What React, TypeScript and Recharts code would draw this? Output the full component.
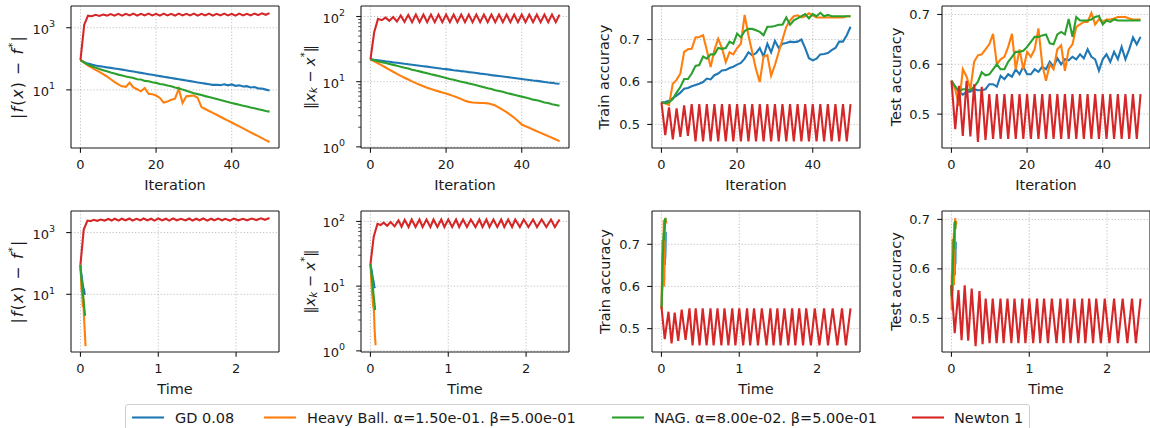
import React from 'react';
import { LineChart, Line, XAxis, YAxis, CartesianGrid, ReferenceLine, Label } from 'recharts';

// iteration index 0..50
const ITER = [
  0, 1, 2, 3, 4, 5, 6, 7, 8, 9, 10, 11, 12, 13, 14, 15, 16, 17, 18, 19, 20, 21, 22, 23, 24, 25,
  26, 27, 28, 29, 30, 31, 32, 33, 34, 35, 36, 37, 38, 39, 40, 41, 42, 43, 44, 45, 46, 47, 48, 49, 50,
];

// wall-clock time of each iteration
const GD_T = [
  0, 0.0015, 0.0026, 0.0037, 0.0048, 0.0059, 0.0069, 0.008, 0.0091, 0.0102, 0.0113,
  0.0124, 0.0134, 0.0145, 0.0156, 0.0167, 0.0178, 0.0188, 0.0199, 0.021, 0.0221,
  0.0232, 0.0243, 0.0254, 0.0265, 0.0276, 0.0287, 0.0298, 0.0309, 0.032, 0.0331,
  0.0342, 0.0352, 0.0363, 0.0374, 0.0385, 0.0396, 0.0407, 0.0418, 0.0429, 0.044,
  0.0451, 0.0462, 0.0473, 0.0484, 0.0495, 0.0506, 0.0517, 0.0528, 0.0539, 0.055,
];
const HB_T = [
  0, 0.0017, 0.003, 0.0043, 0.0056, 0.0069, 0.0082, 0.0095, 0.0108, 0.0121, 0.0134,
  0.0147, 0.016, 0.0173, 0.0186, 0.0199, 0.0212, 0.0225, 0.0238, 0.0251, 0.0264,
  0.0277, 0.029, 0.0303, 0.0316, 0.0329, 0.0342, 0.0355, 0.0368, 0.0381, 0.0394,
  0.0407, 0.042, 0.0433, 0.0446, 0.0459, 0.0472, 0.0485, 0.0498, 0.0511, 0.0524,
  0.0537, 0.055, 0.0563, 0.0576, 0.0589, 0.0602, 0.0615, 0.0628, 0.0641, 0.0654,
];
const NAG_T = [
  0, 0.0016, 0.0028, 0.004, 0.0052, 0.0064, 0.0076, 0.0088, 0.01, 0.0112, 0.0124,
  0.0136, 0.0148, 0.016, 0.0172, 0.0184, 0.0196, 0.0208, 0.022, 0.0232, 0.0244,
  0.0256, 0.0268, 0.028, 0.0292, 0.0304, 0.0316, 0.0328, 0.034, 0.0352, 0.0364,
  0.0376, 0.0388, 0.04, 0.0412, 0.0424, 0.0436, 0.0448, 0.046, 0.0472, 0.0484,
  0.0496, 0.0508, 0.052, 0.0532, 0.0544, 0.0556, 0.0568, 0.058, 0.0592, 0.0604,
];
const NEWTON_T = [
  0, 0.042, 0.09, 0.13, 0.17, 0.215, 0.26, 0.31, 0.36, 0.4, 0.44,
  0.49, 0.53, 0.58, 0.63, 0.67, 0.72, 0.77, 0.81, 0.86, 0.91,
  0.95, 1.0, 1.05, 1.1, 1.14, 1.19, 1.24, 1.29, 1.35, 1.4,
  1.44, 1.49, 1.53, 1.58, 1.63, 1.68, 1.72, 1.77, 1.82, 1.86,
  1.92, 1.97, 2.03, 2.09, 2.14, 2.2, 2.26, 2.32, 2.37, 2.43,
];

// |f(x) - f*|
const GD_F = [
  91, 78, 70, 65, 61, 58, 55.5, 53, 51, 49, 47,
  44.8, 42.7, 40.7, 38.8, 37, 35.2, 33.5, 32, 30.5, 29,
  27.7, 26.5, 25.3, 24.1, 23, 22, 21, 20, 19.1, 18.3,
  17.4, 16.6, 15.9, 15.2, 14.5, 14.6, 14.2, 15.2, 14, 15,
  13.5, 14, 12.8, 13.2, 12, 12.4, 11.2, 11, 10.2, 9.5,
];
const HB_F = [
  91, 75, 60, 52, 44, 38, 32, 27, 22, 18, 15,
  13, 12.5, 17, 12, 10.5, 9, 11.5, 7.5, 7.2, 6.6,
  5.5, 3.9, 4.2, 4.8, 5.2, 10.8, 3.8, 6.2, 6.4, 6.6,
  5.5, 2.8, 2.42, 2.1, 1.82, 1.58, 1.37, 1.18, 1.03, 0.89,
  0.77, 0.67, 0.58, 0.5, 0.43, 0.375, 0.325, 0.28, 0.243, 0.21,
];
const NAG_F = [
  91, 75, 65, 58, 52, 47, 43, 39.5, 36, 33.5, 31,
  29, 27, 25.5, 24, 22, 21.5, 19.5, 19, 17.5, 16.8,
  15.5, 15, 13.8, 13, 12, 11.2, 10.2, 9.4, 8.5, 7.8,
  7.3, 6.8, 6.3, 5.9, 5.5, 5.1, 4.75, 4.4, 4.1, 3.8,
  3.55, 3.3, 3.1, 2.9, 2.7, 2.55, 2.4, 2.25, 2.1, 2.0,
];
const NEWTON_F = [
  91, 1250, 2450, 2350, 2600, 2400, 2650, 2450, 2750, 2450, 2800,
  2450, 2800, 2500, 2850, 2450, 2800, 2500, 2850, 2500, 2800,
  2450, 2850, 2500, 2800, 2450, 2850, 2500, 2800, 2500, 2850,
  2450, 2800, 2500, 2850, 2450, 2800, 2500, 2850, 2500, 2800,
  2450, 2850, 2500, 2800, 2500, 2850, 2550, 2900, 2600, 2950,
];

// ||x_k - x*||
const GD_X = [
  22, 21.6, 21.3, 20.9, 20.5, 20.2, 19.8, 19.5, 19.2, 18.8, 18.5,
  18.2, 17.9, 17.6, 17.3, 17.0, 16.7, 16.4, 16.1, 15.8, 15.6,
  15.3, 15.0, 14.8, 14.5, 14.3, 14.0, 13.8, 13.6, 13.3, 13.1,
  12.9, 12.6, 12.4, 12.2, 12.0, 11.8, 11.6, 11.4, 11.2, 11.0,
  10.8, 10.6, 10.4, 10.3, 10.1, 9.9, 9.7, 9.6, 9.4, 9.3,
];
const HB_X = [
  22, 20.5, 19.2, 17.8, 16.5, 15.3, 14.2, 13.2, 12.3, 11.5, 10.8,
  10.1, 9.5, 9.0, 8.5, 8.1, 7.7, 7.4, 7.1, 6.8, 6.6,
  6.3, 6.0, 5.7, 5.4, 5.1, 4.9, 4.8, 4.75, 4.7, 4.7,
  4.65, 4.5, 4.3, 4.0, 3.7, 3.4, 3.1, 2.8, 2.5, 2.2,
  2.07, 1.96, 1.84, 1.74, 1.64, 1.55, 1.46, 1.38, 1.3, 1.22,
];
const NAG_X = [
  22, 21.3, 20.6, 19.9, 19.3, 18.7, 18.1, 17.5, 16.9, 16.4, 15.9,
  15.3, 14.8, 14.4, 13.9, 13.5, 13.0, 12.6, 12.2, 11.8, 11.4,
  11.0, 10.7, 10.3, 10.0, 9.7, 9.4, 9.1, 8.8, 8.5, 8.2,
  7.9, 7.7, 7.4, 7.2, 7.0, 6.7, 6.5, 6.3, 6.1, 5.9,
  5.7, 5.5, 5.3, 5.2, 5.0, 4.8, 4.7, 4.5, 4.4, 4.27,
];
const NEWTON_X = [
  22, 58, 92, 88, 96, 86, 98, 84, 104, 83, 106,
  82, 107, 82, 107, 82, 107, 82, 107, 82, 107,
  82, 107, 82, 107, 82, 107, 82, 107, 82, 107,
  82, 107, 82, 107, 82, 107, 82, 107, 82, 107,
  82, 107, 82, 107, 82, 107, 82, 107, 82, 107,
];

// train accuracy
const GD_TR = [
  0.552, 0.553, 0.556, 0.562, 0.568, 0.575, 0.584, 0.586, 0.59, 0.593, 0.596,
  0.6, 0.608, 0.606, 0.616, 0.62, 0.627, 0.628, 0.633, 0.636, 0.641,
  0.645, 0.655, 0.67, 0.663, 0.668, 0.68, 0.66, 0.69, 0.67, 0.697,
  0.68, 0.69, 0.692, 0.695, 0.694, 0.695, 0.7, 0.68, 0.656, 0.651,
  0.655, 0.665, 0.666, 0.668, 0.675, 0.68, 0.695, 0.695, 0.71, 0.73,
];
const HB_TR = [
  0.552, 0.55, 0.546, 0.596, 0.605, 0.62, 0.671, 0.677, 0.678, 0.705, 0.706,
  0.71, 0.675, 0.635, 0.675, 0.702, 0.68, 0.647, 0.67, 0.665, 0.68,
  0.69, 0.758, 0.71, 0.67, 0.63, 0.6, 0.66, 0.663, 0.615, 0.64,
  0.67, 0.7, 0.73, 0.745, 0.755, 0.757, 0.752, 0.755, 0.762, 0.757,
  0.752, 0.752, 0.752, 0.752, 0.752, 0.752, 0.752, 0.752, 0.755, 0.755,
];
const NAG_TR = [
  0.552, 0.55, 0.552, 0.56, 0.575, 0.588, 0.607, 0.607, 0.62, 0.638, 0.64,
  0.66, 0.655, 0.665, 0.665, 0.68, 0.678, 0.68, 0.695, 0.69, 0.714,
  0.705, 0.72, 0.725, 0.725, 0.722, 0.718, 0.71, 0.73, 0.73, 0.732,
  0.735, 0.735, 0.752, 0.735, 0.745, 0.75, 0.755, 0.76, 0.75, 0.76,
  0.755, 0.763, 0.755, 0.758, 0.755, 0.755, 0.755, 0.755, 0.755, 0.755,
];
const NEWTON_TR = [
  0.552, 0.475, 0.54, 0.465, 0.538, 0.471, 0.545, 0.473, 0.548, 0.46, 0.548,
  0.46, 0.548, 0.46, 0.548, 0.46, 0.548, 0.46, 0.548, 0.46, 0.548,
  0.46, 0.548, 0.46, 0.548, 0.46, 0.548, 0.46, 0.548, 0.46, 0.548,
  0.46, 0.548, 0.46, 0.548, 0.46, 0.548, 0.46, 0.548, 0.46, 0.548,
  0.46, 0.548, 0.46, 0.548, 0.46, 0.548, 0.46, 0.548, 0.46, 0.548,
];

// test accuracy
const GD_TE = [
  0.567, 0.555, 0.545, 0.539, 0.545, 0.545, 0.55, 0.548, 0.548, 0.55, 0.56,
  0.56, 0.555, 0.577, 0.57, 0.58, 0.575, 0.59, 0.58, 0.595, 0.58,
  0.58, 0.59, 0.585, 0.595, 0.59, 0.605, 0.595, 0.612, 0.6, 0.61,
  0.608, 0.615, 0.61, 0.62, 0.612, 0.63, 0.615, 0.61, 0.587, 0.61,
  0.62, 0.605, 0.625, 0.61, 0.635, 0.61, 0.63, 0.654, 0.64, 0.655,
];
const HB_TE = [
  0.567, 0.55, 0.517, 0.59, 0.575, 0.55, 0.605, 0.618, 0.62, 0.63, 0.64,
  0.661, 0.6, 0.61, 0.615, 0.635, 0.661, 0.59, 0.63, 0.59, 0.625,
  0.615, 0.63, 0.672, 0.6, 0.567, 0.6, 0.59, 0.63, 0.638, 0.587,
  0.63, 0.64, 0.675, 0.68, 0.685, 0.685, 0.703, 0.68, 0.69, 0.685,
  0.69, 0.69, 0.692, 0.695, 0.695, 0.695, 0.692, 0.69, 0.69, 0.69,
];
const NAG_TE = [
  0.567, 0.555, 0.545, 0.55, 0.55, 0.548, 0.555, 0.565, 0.584, 0.578, 0.58,
  0.59, 0.6, 0.59, 0.59, 0.605, 0.615, 0.625, 0.625, 0.627, 0.635,
  0.645, 0.655, 0.655, 0.658, 0.66, 0.642, 0.64, 0.66, 0.665, 0.66,
  0.691, 0.655, 0.695, 0.688, 0.688, 0.688, 0.69, 0.695, 0.697, 0.68,
  0.688, 0.685, 0.69, 0.688, 0.688, 0.688, 0.688, 0.688, 0.688, 0.688,
];
const NEWTON_TE = [
  0.567, 0.47, 0.557, 0.456, 0.567, 0.455, 0.56, 0.444, 0.555, 0.448, 0.54,
  0.45, 0.54, 0.45, 0.54, 0.45, 0.54, 0.45, 0.54, 0.45, 0.54,
  0.45, 0.54, 0.45, 0.54, 0.45, 0.54, 0.45, 0.54, 0.45, 0.54,
  0.45, 0.54, 0.45, 0.54, 0.45, 0.54, 0.45, 0.54, 0.45, 0.54,
  0.45, 0.54, 0.45, 0.54, 0.45, 0.54, 0.45, 0.54, 0.45, 0.54,
];

const LEGEND_NAMES = ['GD 0.08', 'Heavy Ball. α=1.50e-01. β=5.00e-01', 'NAG. α=8.00e-02. β=5.00e-01', 'Newton 1'];
const ITER_TICKS = [0, 20, 40];
const TIME_TICKS = [0, 1, 2];
const LOG_F_TICKS = [10, 1000];
const LOG_X_TICKS = [1, 10, 100];
const LOG_X_MINOR = [2, 3, 4, 5, 6, 7, 8, 9, 20, 30, 40, 50, 60, 70, 80, 90];
const ACC_TICKS = [0.5, 0.6, 0.7];

const COLORS = ['#1f77b4', '#ff7f0e', '#2ca02c', '#d62728'];
const FONT = '"DejaVu Sans", Verdana, sans-serif';
const INK = '#1a1a1a';

const PADL = 72;
const PADT = 8;
const PADR = 8;
const PADB = 52;

type Pt = { x: number; y: number };
const zip = (xs: number[], ys: number[]): Pt[] => xs.map((x, i) => ({ x, y: ys[i] }));

const EXP: Record<number, string> = { 1: '0', 10: '1', 100: '2', 1000: '3' };

const XTick = (props: any) => {
  const { x, y, payload } = props;
  return (
    <g>
      <line x1={x} x2={x} y1={y} y2={y + 4.8} stroke={INK} strokeWidth={1.1} />
      <text x={x} y={y + 16.5} textAnchor="middle" dominantBaseline="central" fontSize={13} fontFamily={FONT} fill={INK}>
        {payload.value}
      </text>
    </g>
  );
};

const YTick = (props: any) => {
  const { x, y, payload, log, majors } = props;
  const v = payload.value;
  const major = majors.includes(v);
  return (
    <g>
      <line x1={x - (major ? 4.8 : 2.8)} x2={x} y1={y} y2={y} stroke={INK} strokeWidth={major ? 1.1 : 0.8} />
      {major && log && (
        <text x={x - 16} y={y + 1.5} textAnchor="end" dominantBaseline="central" fontSize={13} fontFamily={FONT} fill={INK}>
          10
          <tspan dy={-6} fontSize={9.5}>{EXP[v]}</tspan>
        </text>
      )}
      {major && !log && (
        <text x={x - 12} y={y} textAnchor="end" dominantBaseline="central" fontSize={13} fontFamily={FONT} fill={INK}>
          {v.toFixed(1)}
        </text>
      )}
    </g>
  );
};

const rot = (cx: number, cy: number) => ({
  x: cx,
  y: cy,
  transform: `rotate(-90 ${cx} ${cy})`,
  textAnchor: 'middle' as const,
  dominantBaseline: 'central' as const,
  fontFamily: FONT,
  fontSize: 14.5,
  fill: INK,
});

const FGapLabel = (cx: number, cy: number) => (
  <text {...rot(cx, cy)} fontSize={15.5} letterSpacing={1.2}>
    |<tspan fontStyle="italic">f</tspan>(<tspan fontStyle="italic">x</tspan>){') \u2212 '.slice(1)}
    <tspan fontStyle="italic">f</tspan>
    <tspan dy={-6} fontSize={10}>*</tspan>
    <tspan dy={6}>|</tspan>
  </text>
);

const XDistLabel = (cx: number, cy: number) => (
  <text {...rot(cx, cy)}>
    ‖<tspan fontStyle="italic">x</tspan>
    <tspan dy={3} fontSize={10} fontStyle="italic">k</tspan>
    <tspan dy={-3}>{' \u2212 '}</tspan>
    <tspan fontStyle="italic">x</tspan>
    <tspan dy={-6} fontSize={10}>*</tspan>
    <tspan dy={6}>‖</tspan>
  </text>
);

const plainLabel = (s: string) => (cx: number, cy: number) => <text {...rot(cx, cy)}>{s}</text>;

type PanelProps = {
  left: number;
  top: number;
  width: number;
  height: number;
  xDomain: [number, number];
  xTicks: number[];
  xLabel: string;
  yDomain: [number, number];
  yMajor: number[];
  yMinor?: number[];
  log?: boolean;
  yLabel: (cx: number, cy: number) => React.ReactElement;
  yLabelX: number;
  series: Pt[][];
};

function Panel(p: PanelProps) {
  const W = p.width + PADL + PADR;
  const H = p.height + PADT + PADB;
  const yTicks = p.yMinor ? [...p.yMajor, ...p.yMinor].sort((a, b) => a - b) : p.yMajor;
  const cx = PADL + p.yLabelX;
  const cy = PADT + p.height / 2;
  return (
    <div style={{ position: 'absolute', left: p.left - PADL, top: p.top - PADT, width: W, height: H }}>
      <LineChart width={W} height={H} margin={{ top: PADT, right: PADR, left: 0, bottom: 0 }}>
        <CartesianGrid
          stroke="#b0b0b0"
          strokeWidth={0.8}
          strokeDasharray="1.2 2"
          horizontalValues={p.yMajor}
          verticalValues={p.xTicks}
        />
        <XAxis
          type="number"
          dataKey="x"
          domain={p.xDomain}
          ticks={p.xTicks}
          interval={0}
          allowDataOverflow
          height={PADB}
          tickLine={false}
          tickSize={0}
          tickMargin={0}
          axisLine={{ stroke: INK, strokeWidth: 1.1 }}
          tick={(t: any) => <XTick {...t} />}
        >
          <Label
            content={() => (
              <text
                x={PADL + p.width / 2}
                y={PADT + p.height + 37}
                textAnchor="middle"
                dominantBaseline="central"
                fontFamily={FONT}
                fontSize={14.5}
                fill={INK}
              >
                {p.xLabel}
              </text>
            )}
          />
        </XAxis>
        <YAxis
          type="number"
          scale={p.log ? 'log' : 'linear'}
          domain={p.yDomain}
          ticks={yTicks}
          interval={0}
          allowDataOverflow
          width={PADL}
          tickLine={false}
          tickSize={0}
          tickMargin={0}
          axisLine={{ stroke: INK, strokeWidth: 1.1 }}
          tick={(t: any) => <YTick {...t} log={p.log} majors={p.yMajor} />}
        >
          <Label content={() => p.yLabel(cx, cy)} />
        </YAxis>
        <ReferenceLine x={p.xDomain[1]} stroke={INK} strokeWidth={1.1} />
        <ReferenceLine y={p.yDomain[1]} stroke={INK} strokeWidth={1.1} />
        {p.series.map((d, i) => (
          <Line
            key={i}
            data={d}
            dataKey="y"
            type="linear"
            stroke={COLORS[i]}
            strokeWidth={2.1}
            dot={false}
            activeDot={false}
            isAnimationActive={false}
          />
        ))}
      </LineChart>
    </div>
  );
}

const COL_LEFT = [71, 361, 652, 942];
const COL_W = 208;
const ROW_TOP = [6, 211];
const ROW_H = [142, 141];
const LABEL_DX = [
  [-53.5, -51, -48, -46.5],
  [-53, -51, -47.5, -46],
];

const ITER_DOMAIN: [number, number] = [-2.5, 52.5];
const TIME_DOMAIN: [number, number] = [-0.1215, 2.5515];
const F_DOMAIN: [number, number] = [0.135, 5000];
const XD_DOMAIN: [number, number] = [0.96, 145];
const TR_DOMAIN: [number, number] = [0.4445, 0.779];
const TE_DOMAIN: [number, number] = [0.432, 0.717];

const Legend = () => {
  const items = [
    { lx: 6, tx: 49 },
    { lx: 138, tx: 181 },
    { lx: 486, tx: 528 },
    { lx: 786, tx: 828 },
  ];
  return (
    <div
      style={{
        position: 'absolute',
        left: 125,
        top: 404,
        width: 905,
        height: 34,
        border: '1px solid #cfcfcf',
        borderRadius: 3,
        boxSizing: 'border-box',
        background: '#fff',
      }}
    >
      <svg width={903} height={32} style={{ display: 'block' }}>
        {items.map((it, i) => (
          <g key={i}>
            <line x1={it.lx} x2={it.lx + 32} y1={12.5} y2={12.5} stroke={COLORS[i]} strokeWidth={2.1} />
            <text x={it.tx} y={18} fontFamily={FONT} fontSize={14.5} fill={INK}>
              {LEGEND_NAMES[i]}
            </text>
          </g>
        ))}
      </svg>
    </div>
  );
};

export default function App() {
  const iterF = [zip(ITER, GD_F), zip(ITER, HB_F), zip(ITER, NAG_F), zip(ITER, NEWTON_F)];
  const iterX = [zip(ITER, GD_X), zip(ITER, HB_X), zip(ITER, NAG_X), zip(ITER, NEWTON_X)];
  const iterTr = [zip(ITER, GD_TR), zip(ITER, HB_TR), zip(ITER, NAG_TR), zip(ITER, NEWTON_TR)];
  const iterTe = [zip(ITER, GD_TE), zip(ITER, HB_TE), zip(ITER, NAG_TE), zip(ITER, NEWTON_TE)];
  const timeF = [zip(GD_T, GD_F), zip(HB_T, HB_F), zip(NAG_T, NAG_F), zip(NEWTON_T, NEWTON_F)];
  const timeX = [zip(GD_T, GD_X), zip(HB_T, HB_X), zip(NAG_T, NAG_X), zip(NEWTON_T, NEWTON_X)];
  const timeTr = [zip(GD_T, GD_TR), zip(HB_T, HB_TR), zip(NAG_T, NAG_TR), zip(NEWTON_T, NEWTON_TR)];
  const timeTe = [zip(GD_T, GD_TE), zip(HB_T, HB_TE), zip(NAG_T, NAG_TE), zip(NEWTON_T, NEWTON_TE)];

  const cols = [
    { yDomain: F_DOMAIN, yMajor: LOG_F_TICKS, log: true, yLabel: FGapLabel, data: [iterF, timeF] },
    { yDomain: XD_DOMAIN, yMajor: LOG_X_TICKS, yMinor: LOG_X_MINOR, log: true, yLabel: XDistLabel, data: [iterX, timeX] },
    { yDomain: TR_DOMAIN, yMajor: ACC_TICKS, log: false, yLabel: plainLabel('Train accuracy'), data: [iterTr, timeTr] },
    { yDomain: TE_DOMAIN, yMajor: ACC_TICKS, log: false, yLabel: plainLabel('Test accuracy'), data: [iterTe, timeTe] },
  ];

  return (
    <div style={{ position: 'absolute', left: 0, top: 0, width: 1150, height: 428, background: '#fff', overflow: 'hidden' }}>
      {[0, 1].map((r) =>
        cols.map((c, ci) => (
          <Panel
            key={`${r}-${ci}`}
            left={COL_LEFT[ci]}
            top={ROW_TOP[r]}
            width={COL_W}
            height={ROW_H[r]}
            xDomain={r === 0 ? ITER_DOMAIN : TIME_DOMAIN}
            xTicks={r === 0 ? ITER_TICKS : TIME_TICKS}
            xLabel={r === 0 ? 'Iteration' : 'Time'}
            yDomain={c.yDomain}
            yMajor={c.yMajor}
            yMinor={c.yMinor}
            log={c.log}
            yLabel={c.yLabel}
            yLabelX={LABEL_DX[r][ci]}
            series={c.data[r]}
          />
        ))
      )}
      <Legend />
    </div>
  );
}
